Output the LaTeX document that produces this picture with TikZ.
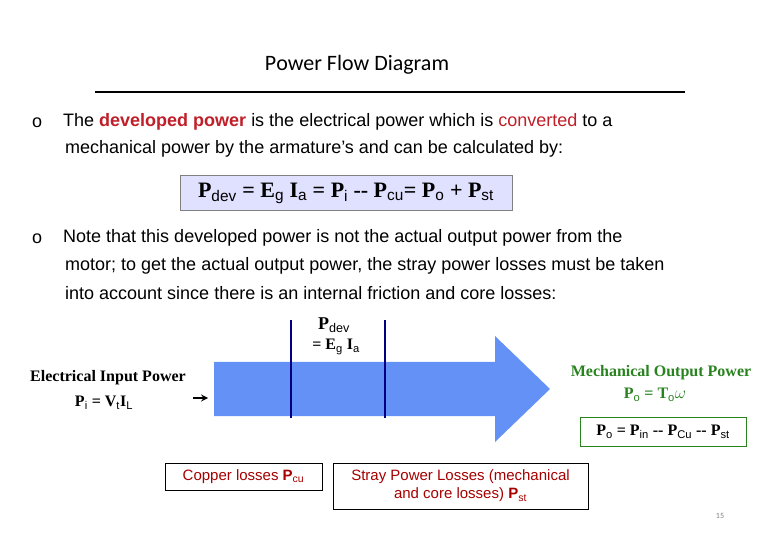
\documentclass[tikz,border=0pt]{standalone}
\usepackage{fontspec}
\setmainfont{Liberation Sans}
\newfontfamily\tnr{Liberation Serif}
\newfontfamily\carfont{Carlito}
\begin{document}
\begin{tikzpicture}[x=1pt,y=-1pt,
  body/.style={font=\fontsize{18}{22}\selectfont,anchor=west,inner sep=0},
  serifb/.style={font=\tnr\bfseries\fontsize{16}{18}\selectfont,inner sep=0},
  lossbox/.style={draw,thick,inner sep=0,font=\fontsize{15}{18}\selectfont,text=red!65!black,align=center}]
\useasboundingbox (0,0) rectangle (780,540);
\definecolor{devred}{RGB}{192,30,40}
\definecolor{arrowblue}{RGB}{100,145,245}
\definecolor{mgreen}{RGB}{40,130,30}
\node[inner sep=0,font=\carfont\fontsize{22}{24}\selectfont] (title) at (357,65) {P\textsc{ower} F\textsc{low} D\textsc{iagram}};
\draw[line width=1.5pt] (95,92) -- (685,92);
\node[body] (b1) at (32,123) {o};
\node[body] (l1) at (63,122) {The {\bfseries\color{devred}developed power} is the electrical power which is {\color{devred}converted} to a};
\node[body] (l2) at (65,149) {mechanical power by the armature’s and can be calculated by:};
\node[draw=gray,fill=blue!12,minimum width=332,minimum height=35,inner sep=0,font=\tnr\bfseries\fontsize{22}{24}\selectfont] (f) at (346,193)
 {P$_{\mathrm{dev}}$ = E$_{\mathrm{g}}$ I$_{\mathrm{a}}$ = P$_{\mathrm{i}}$ -- P$_{\mathrm{cu}}$= P$_{\mathrm{o}}$ + P$_{\mathrm{st}}$};
\node[body] (b2) at (32,239) {o};
\node[body] (l3) at (63,238) {Note that this developed power is not the actual output power from the};
\node[body] (l4) at (65,266) {motor; to get the actual output power, the stray power losses must be taken};
\node[body] (l5) at (65,293) {into account since there is an internal friction and core losses:};
% big arrow
\fill[arrowblue] (214,362) -- (495,362) -- (495,336) -- (550,389) -- (495,442) -- (495,416) -- (214,416) -- cycle;
\draw[blue!50!black,line width=1.5pt] (291,320) -- (291,418);
\draw[blue!50!black,line width=1.5pt] (385,320) -- (385,418);
\node[serifb,font=\tnr\bfseries\fontsize{18}{20}\selectfont] (pd) at (334,325) {P$_{\mathrm{dev}}$};
\node[serifb] (eg) at (336,347) {= E$_{\mathrm{g}}$ I$_{\mathrm{a}}$};
\node[serifb] (ein) at (108,378) {Electrical Input Power};
\node[serifb] (pi) at (104,403) {P$_{\mathrm{i}}$ = V$_{\mathrm{t}}$I$_{\mathrm{L}}$};
\coordinate (as) at (193,398); \coordinate (ae) at (208,398);
\draw[-stealth,line width=2pt] (as) -- (ae);
\node[serifb,text=mgreen] (mo) at (661,373) {Mechanical Output Power};
\node[serifb,text=mgreen] (po) at (655,395) {P$_{\mathrm{o}}$ = T$_{\mathrm{o}}\omega$};
\node[draw=mgreen,thick,minimum width=166,minimum height=29,serifb] (pob) at (663,432) {P$_{\mathrm{o}}$ = P$_{\mathrm{in}}$ -- P$_{\mathrm{Cu}}$ -- P$_{\mathrm{st}}$};
\node[lossbox,minimum width=157,minimum height=27] (cu) at (243.5,476.5) {Copper losses {\bfseries P$_{\mathrm{cu}}$}};
\node[lossbox,minimum width=255,minimum height=46] (st) at (460.5,486) {Stray Power Losses (mechanical\\and core losses) {\bfseries P$_{\mathrm{st}}$}};
\node[inner sep=0,font=\carfont\fontsize{8}{9}\selectfont,text=gray] (pg) at (720,516) {15};
\end{tikzpicture}
\end{document}
